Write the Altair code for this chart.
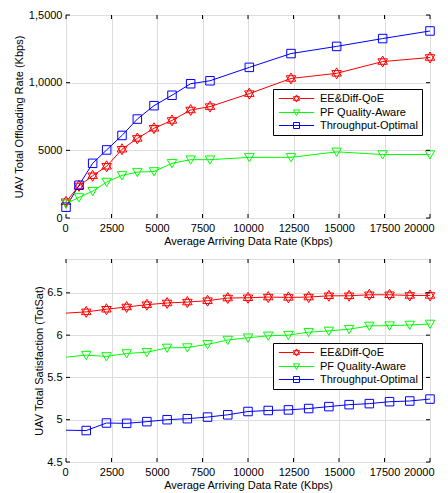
import altair as alt
import pandas as pd

series = ["EE&Diff-QoE", "PF Quality-Aware", "Throughput-Optimal"]
colors = ["#ff0000", "#00ff00", "#0000ff"]

# Top panel: offloading rate
rate_x = [0, 714, 1465, 2234, 3077, 3919, 4835, 5824, 6850, 7912, 10073, 12363, 14872, 17399, 20000]
rate_ee = [1200, 2370, 3120, 3820, 5080, 5880, 6630, 7210, 7980, 8230, 9190, 10310, 10690, 11560, 11860]
rate_pf = [1050, 1520, 1980, 2660, 3150, 3390, 3440, 4040, 4310, 4310, 4480, 4480, 4890, 4690, 4690]
rate_tp = [800, 2420, 4040, 5030, 6100, 7310, 8300, 9070, 9920, 10140, 11130, 12150, 12680, 13260, 13820]

# Bottom panel: satisfaction
sat_x = [0, 1111, 2222, 3333, 4444, 5556, 6667, 7778, 8889, 10000, 11111, 12222, 13333,
         14444, 15556, 16667, 17778, 18889, 20000]
sat_ee = [6.26, 6.275, 6.306, 6.333, 6.36, 6.38, 6.391, 6.407, 6.438, 6.442, 6.45, 6.446, 6.45,
          6.465, 6.465, 6.477, 6.477, 6.469, 6.469]
sat_pf = [5.74, 5.764, 5.748, 5.783, 5.798, 5.849, 5.853, 5.891, 5.942, 5.969, 5.992, 6.0, 6.035,
          6.05, 6.07, 6.109, 6.112, 6.12, 6.132]
sat_tp = [4.876, 4.872, 4.961, 4.957, 4.977, 5.0, 5.012, 5.031, 5.058, 5.097, 5.109, 5.116, 5.132,
          5.155, 5.178, 5.19, 5.213, 5.221, 5.244]
sat_marker_start = 1  # first point has no marker

x_ticks = [0, 2500, 5000, 7500, 10000, 12500, 15000, 17500, 20000]
rate_yticks = [0, 5000, 10000, 15000]
rate_ylabels = ["0", "5000", "1,0000", "1,5000"]
sat_yticks = [4.5, 5, 5.5, 6, 6.5]
sat_ylabels = ["4.5", "5", "5.5", "6", "6.5"]

x_title = "Average Arriving Data Rate (Kbps)"
rate_title = "UAV Total Offloading Rate (Kbps)"
sat_title = "UAV Total Satisfaction (TotSat)"

FONT = "Liberation Sans"
W, H = 364, 203
TICK = 4

# marker glyphs (open), and legend glyphs (marker with line segment through it)
marker_paths = [
    "M0,-1.1L0.953,0.55L-0.953,0.55Z M0,1.1L0.953,-0.55L-0.953,-0.55Z",
    "M-0.95,-0.75L0.95,-0.75L0,0.9Z",
    "M-0.85,-0.85L0.85,-0.85L0.85,0.85L-0.85,0.85Z",
]
legend_paths = [
    "M-4.4,0L-0.75,0 M0.75,0L4.4,0 M0,-0.9L0.78,0.45L-0.78,0.45Z M0,0.9L0.78,-0.45L-0.78,-0.45Z",
    "M-4.4,0L4.4,0 M-0.8,-0.65L0.8,-0.65L0,0.75Z",
    "M-4.4,0L4.4,0 M-0.75,-0.75L0.75,-0.75L0.75,0.75L-0.75,0.75Z",
]


def label_expr(vals, labels):
    expr = "''"
    for v, l in reversed(list(zip(vals, labels))):
        expr = f"datum.value == {v} ? '{l}' : ({expr})"
    return expr


def long_df(xs, ys_list, start=0):
    rows = []
    for s, ys in zip(series, ys_list):
        for i, (xv, yv) in enumerate(zip(xs, ys)):
            if i >= start:
                rows.append({"x": xv, "y": yv, "series": s})
    return pd.DataFrame(rows)


def panel(xs, ys_list, ydom, yticks, ylabels, ytitle, ytitle_pad, lx, ly, mstart):
    color_scale = alt.Scale(domain=series, range=colors)
    xenc = alt.X("x:Q", scale=alt.Scale(domain=[0, 20000], nice=False, zero=False),
                 axis=alt.Axis(values=x_ticks, format="d", title=x_title, ticks=False,
                               labelPadding=4, titlePadding=2, domain=False,
                               labelFlush=True, labelFlushOffset=4,
                               titleFontWeight="normal", titleFont=FONT, titleFontSize=11,
                               labelFont=FONT, labelFontSize=11))
    yenc = alt.Y("y:Q", scale=alt.Scale(domain=ydom, nice=False, zero=False),
                 axis=alt.Axis(values=yticks, labelExpr=label_expr(yticks, ylabels),
                               title=ytitle, ticks=False, labelPadding=4,
                               titlePadding=ytitle_pad, domain=False, labelFlush=False,
                               titleFontWeight="normal", titleFont=FONT, titleFontSize=11,
                               labelFont=FONT, labelFontSize=11))
    line_df = long_df(xs, ys_list)
    pt_df = long_df(xs, ys_list, mstart)
    lines = alt.Chart(line_df).mark_line(strokeWidth=1).encode(
        x=xenc, y=yenc, color=alt.Color("series:N", scale=color_scale, legend=None))
    points = alt.Chart(pt_df).mark_point(filled=False, size=100, strokeWidth=1, opacity=1).encode(
        x=xenc, y=yenc,
        color=alt.Color("series:N", scale=color_scale, legend=None),
        shape=alt.Shape("series:N", scale=alt.Scale(domain=series, range=marker_paths), legend=None))
    leg = alt.Legend(orient="none", legendX=lx, legendY=ly, title=None, fillColor="white",
                     strokeColor="black", padding=4, labelFont=FONT, labelFontSize=11,
                     labelColor="black", symbolSize=64, symbolStrokeWidth=1, symbolOpacity=1,
                     symbolOffset=14, labelOffset=18, rowPadding=1)
    legend_layer = alt.Chart(pd.DataFrame({"series": series})).mark_point(
        filled=False, opacity=0).encode(
        color=alt.Color("series:N", scale=color_scale, legend=leg),
        shape=alt.Shape("series:N", scale=alt.Scale(domain=series, range=legend_paths), legend=leg))
    xdf = pd.DataFrame({"x": x_ticks})
    ydf = pd.DataFrame({"y": yticks})
    t1 = alt.Chart(xdf).mark_rule(color="black", strokeWidth=1).encode(
        x=xenc, y=alt.value(H), y2=alt.value(H - TICK))
    t2 = alt.Chart(xdf).mark_rule(color="black", strokeWidth=1).encode(
        x=xenc, y=alt.value(0), y2=alt.value(TICK))
    t3 = alt.Chart(ydf).mark_rule(color="black", strokeWidth=1).encode(
        y=yenc, x=alt.value(0), x2=alt.value(TICK))
    t4 = alt.Chart(ydf).mark_rule(color="black", strokeWidth=1).encode(
        y=yenc, x=alt.value(W - TICK), x2=alt.value(W))
    return alt.layer(lines, points, legend_layer, t1, t2, t3, t4).resolve_scale(
        shape="independent", color="independent").properties(width=W, height=H)


top = panel(rate_x, [rate_ee, rate_pf, rate_tp], [0, 15000], rate_yticks, rate_ylabels,
            rate_title, 4, 207, 74, 0)
bottom = panel(sat_x, [sat_ee, sat_pf, sat_tp], [4.5, 6.9], sat_yticks, sat_ylabels,
               sat_title, 2, 207, 84, sat_marker_start)

chart = alt.vconcat(top, bottom, spacing=11).properties(
    padding={"left": 4, "top": 0, "right": 0, "bottom": 0}
).configure_view(stroke="black", strokeWidth=1.3).configure_axis(
    labelFont=FONT, labelFontSize=11, labelColor="black", titleFont=FONT, titleFontSize=11,
    titleFontWeight="normal", titleColor="black", grid=False
).configure(background="white")

chart.save("out.html", embed_options={"renderer": "svg", "actions": False})
